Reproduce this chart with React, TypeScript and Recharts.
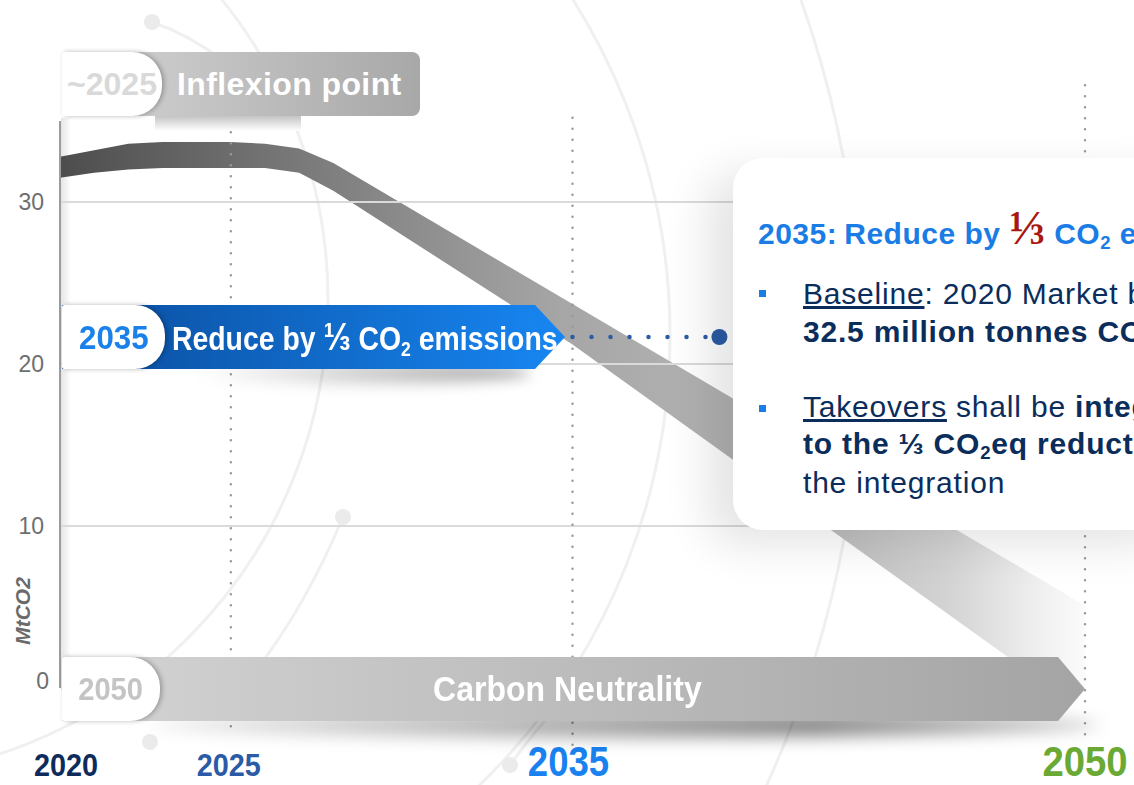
import React from 'react';
import { ComposedChart, Area, Line, XAxis, YAxis, ReferenceLine } from 'recharts';

// emissions trajectory band (MtCO2), upper and lower edge
const years = [2020, 2021, 2022, 2023, 2024, 2025, 2026, 2027, 2028, 2035, 2050];
const bandTop = [32.8, 33.2, 33.6, 33.7, 33.7, 33.7, 33.6, 33.3, 32.4, 23.7, 5.1];
const bandBottom = [31.5, 31.8, 32.0, 32.1, 32.1, 32.1, 32.1, 31.8, 30.7, 21.2, -1.5];

const xTicks = [2020, 2025, 2035, 2050];
const yTicks = [0, 10, 20, 30];
const gridValues = [10, 20, 30];

const baseline2020 = 32.5;
const target2035 = (baseline2020 * 2) / 3;
const connectorYears = [2035, 2039.3];

// dotted milestone guides
const milestones = [
  { year: 2025, from: 34.3, to: -2.6 },
  { year: 2035, from: 35.2, to: -3.6 },
  { year: 2050, from: 37.2, to: -3.2 },
];

const data = years.map((year, i) => ({ year, band: [bandBottom[i], bandTop[i]] }));
const connector = connectorYears.map((year) => ({ year, v: target2035 }));

const sans = '"Liberation Sans", Arial, sans-serif';
const navy = '#0b2d5b';
const blue = '#1a7de6';

const tickLook: Record<number, { fill: string; size: number; sx: number; dx: number; base: number }> = {
  2020: { fill: '#0d2b5c', size: 32, sx: 0.9, dx: 6, base: 776 },
  2025: { fill: '#2b5aa6', size: 32, sx: 0.9, dx: -2, base: 776 },
  2035: { fill: '#1a82f0', size: 42, sx: 0.87, dx: -4, base: 776 },
  2050: { fill: '#6aa934', size: 43, sx: 0.89, dx: 0, base: 776 },
};

const XTick = (props: any) => {
  const { x, y, payload } = props;
  const t = tickLook[payload.value];
  if (!t) return null;
  return (
    <text
      transform={`translate(${x + t.dx},${y + t.base - 688}) scale(${t.sx},1)`}
      textAnchor="middle"
      fill={t.fill}
      fontSize={t.size}
      fontWeight={700}
      fontFamily={sans}
    >
      {payload.value}
    </text>
  );
};

const YTick = (props: any) => {
  const { x, y, payload } = props;
  const lift = payload.value === 0 ? -7 : 0;
  return (
    <text
      x={x + (payload.value === 0 ? 5 : 0)}
      y={y + lift}
      dy="0.36em"
      textAnchor="end"
      fill="#6e6e6e"
      fontSize={23}
      fontFamily={sans}
    >
      {payload.value}
    </text>
  );
};

const EndDot = (props: any) =>
  props.index === connectorYears.length - 1 ? (
    <circle key="end" cx={props.cx} cy={props.cy} r={8} fill="#2c5ba5" />
  ) : (
    <g key={props.index} />
  );

const Sub2 = () => (
  <span style={{ fontSize: '0.62em', verticalAlign: '-0.28em' }}>2</span>
);

const tabStyle: React.CSSProperties = {
  position: 'absolute',
  background: '#fff',
  borderRadius: '2px 30px 30px 2px',
  boxShadow: '2px 0 5px rgba(0,0,0,0.28)',
  display: 'flex',
  alignItems: 'center',
  justifyContent: 'center',
  fontWeight: 700,
  whiteSpace: 'nowrap',
};

const narrow = (sx: number, origin = 'center'): React.CSSProperties => ({
  display: 'inline-block',
  transform: `scaleX(${sx})`,
  transformOrigin: origin,
  whiteSpace: 'nowrap',
});

const cardLine = (baseline: number): React.CSSProperties => ({
  position: 'absolute',
  left: 803,
  top: baseline - 25.4,
  fontSize: 30,
  lineHeight: '30px',
  letterSpacing: 0.8,
  color: navy,
  whiteSpace: 'nowrap',
});

const bullet = (top: number): React.CSSProperties => ({
  position: 'absolute',
  left: 759,
  top,
  width: 7,
  height: 7,
  background: blue,
});

export default function App() {
  return (
    <div
      style={{
        position: 'fixed',
        left: 0,
        top: 0,
        width: 1134,
        height: 785,
        overflow: 'hidden',
        background: '#fff',
        fontFamily: sans,
      }}
    >
      {/* faint background arcs */}
      <svg width={1134} height={785} style={{ position: 'absolute', left: 0, top: 0 }}>
        <g fill="none" stroke="#f0f0f0" strokeWidth={3}>
          <circle cx={43} cy={335} r={627} />
          <circle cx={-189} cy={350} r={1050} />
          <circle cx={-150} cy={300} r={478} />
          <path d="M343 517 Q300 620 240 690" />
          <path d="M152 22 Q190 35 225 62" />
          <path d="M510 765 Q535 730 560 705" />
        </g>
        <g fill="#ebebeb">
          <circle cx={152} cy={22} r={8} />
          <circle cx={343} cy={517} r={8} />
          <circle cx={150} cy={742} r={8} />
          <circle cx={510} cy={765} r={8} />
        </g>
      </svg>

      <div
        style={{
          position: 'absolute',
          left: 61,
          top: 118,
          width: 10,
          height: 572,
          background: 'linear-gradient(to right, rgba(0,0,0,0.10), rgba(0,0,0,0))',
        }}
      />

      <div style={{ position: 'absolute', left: 0, top: 0 }}>
        <ComposedChart width={1134} height={785} data={data} margin={{ top: 121, right: 0, bottom: 0, left: 0 }}>
          <defs>
            <linearGradient id="bandFill" gradientUnits="userSpaceOnUse" x1={60} y1={0} x2={1085} y2={0}>
              <stop offset="0" stopColor="#4d4d4d" />
              <stop offset="0.26" stopColor="#7e7e7e" />
              <stop offset="0.49" stopColor="#a6a6a6" />
              <stop offset="0.66" stopColor="#b4b4b4" />
              <stop offset="0.76" stopColor="#bfbfbf" />
              <stop offset="0.87" stopColor="#d4d4d4" />
              <stop offset="0.95" stopColor="#eeeeee" />
              <stop offset="1" stopColor="#fbfbfb" />
            </linearGradient>
          </defs>
          <XAxis
            dataKey="year"
            type="number"
            domain={[2020, 2051.434]}
            ticks={xTicks}
            axisLine={false}
            tickLine={false}
            tickSize={0}
            tickMargin={0}
            height={97}
            tick={<XTick />}
            interval={0}
          />
          <YAxis
            type="number"
            domain={[0, 35]}
            allowDataOverflow
            ticks={yTicks}
            width={60}
            tickLine={false}
            tickSize={0}
            tickMargin={16}
            axisLine={{ stroke: '#9c9c9c', strokeWidth: 2 }}
            tick={<YTick />}
            label={{
              content: () => (
                <text
                  x={22}
                  y={611}
                  transform="rotate(-90 22 611)"
                  textAnchor="middle"
                  dominantBaseline="central"
                  fill="#6a6a6a"
                  fontSize={21}
                  fontWeight={700}
                  fontStyle="italic"
                  fontFamily={sans}
                >
                  MtCO2
                </text>
              ),
            }}
          />
          {gridValues.map((v) => (
            <ReferenceLine key={v} y={v} stroke="#dadada" strokeWidth={2} />
          ))}
          {milestones.map((m) => (
            <ReferenceLine
              key={m.year}
              segment={[
                { x: m.year, y: m.from },
                { x: m.year, y: m.to },
              ]}
              ifOverflow="visible"
              stroke="#9a9a9a"
              strokeWidth={2.5}
              strokeDasharray="0 11"
              strokeLinecap="round"
            />
          ))}
          <Area
            dataKey="band"
            type="linear"
            stroke="none"
            fill="url(#bandFill)"
            fillOpacity={1}
            isAnimationActive={false}
          />
          <Line
            data={connector}
            dataKey="v"
            stroke="#2c5ba5"
            strokeWidth={4.5}
            strokeDasharray="0 19"
            strokeLinecap="round"
            dot={EndDot}
            activeDot={false}
            isAnimationActive={false}
          />
        </ComposedChart>
      </div>

      {/* ~2025 inflexion point badge */}
      <div
        style={{
          position: 'absolute',
          left: 155,
          top: 116,
          width: 146,
          height: 15,
          background: 'linear-gradient(to bottom, #c4c4c4, #ffffff)',
        }}
      />
      <div
        style={{
          position: 'absolute',
          left: 62,
          top: 52,
          width: 358,
          height: 64,
          borderRadius: 8,
          background: 'linear-gradient(to right, #d6d6d6, #a8a8a8)',
        }}
      />
      <div style={{ ...tabStyle, left: 62, top: 52, width: 100, height: 64, fontSize: 32, color: '#d9d9d9' }}>
        ~2025
      </div>
      <div
        style={{
          position: 'absolute',
          left: 177,
          top: 52,
          height: 64,
          lineHeight: '64px',
          fontSize: 32,
          fontWeight: 700,
          color: '#fff',
          whiteSpace: 'nowrap',
          letterSpacing: 0.4,
        }}
      >
        Inflexion point
      </div>

      {/* 2035 banner */}
      <div
        style={{
          position: 'absolute',
          left: 190,
          top: 362,
          width: 340,
          height: 22,
          borderRadius: '50%',
          background: 'linear-gradient(to right, rgba(0,0,0,0), rgba(0,0,0,0.35))',
          filter: 'blur(7px)',
        }}
      />
      <div
        style={{
          position: 'absolute',
          left: 62,
          top: 305,
          width: 503,
          height: 64,
          background: 'linear-gradient(to right, #0a4c9c, #1786f2)',
          clipPath: 'polygon(0 0, 473px 0, 503px 32px, 473px 64px, 0 64px)',
        }}
      />
      <div style={{ ...tabStyle, left: 62, top: 305, width: 103, height: 64, fontSize: 34, color: '#1a80ea' }}>
        <span style={narrow(0.92)}>2035</span>
      </div>
      <div
        style={{
          position: 'absolute',
          left: 172,
          top: 305,
          height: 64,
          lineHeight: '64px',
          fontSize: 33,
          fontWeight: 700,
          color: '#fff',
        }}
      >
        <span style={narrow(0.86, 'left center')}>
          Reduce by <span style={{ fontSize: '1.15em' }}>⅓</span> CO<Sub2 /> emissions
        </span>
      </div>

      {/* 2035 card */}
      <div
        style={{
          position: 'absolute',
          left: 733,
          top: 158,
          width: 460,
          height: 372,
          borderRadius: 30,
          background: '#fff',
          boxShadow: '-25px 15px 45px rgba(0,0,0,0.11)',
        }}
      />
      <div
        style={{
          position: 'absolute',
          left: 758,
          top: 238 - 25.4,
          fontSize: 30,
          lineHeight: '30px',
          fontWeight: 700,
          color: blue,
          letterSpacing: 0.5,
          whiteSpace: 'nowrap',
        }}
      >
        2035:<span style={{ marginLeft: 7 }}>Reduce by </span>
        <span style={{ fontFamily: '"Liberation Serif", serif', color: '#a8180f', fontSize: 48, letterSpacing: 0 }}>⅓</span>
        <span> CO<Sub2 /> emissions</span>
      </div>
      <div style={bullet(290)} />
      <div style={cardLine(304)}>
        <span style={{ textDecoration: 'underline' }}>Baseline</span>: 2020 Market baseline
      </div>
      <div style={{ ...cardLine(342), fontWeight: 700 }}>
        32.5 million tonnes CO<Sub2 />eq
      </div>
      <div style={bullet(405)} />
      <div style={cardLine(417)}>
        <span style={{ textDecoration: 'underline' }}>Takeovers</span> shall be <b>integrated</b>
      </div>
      <div style={{ ...cardLine(454), fontWeight: 700 }}>
        to the ⅓ CO<Sub2 />eq reduction after
      </div>
      <div style={cardLine(493)}>the integration</div>

      {/* 2050 carbon neutrality arrow */}
      <div
        style={{
          position: 'absolute',
          left: 150,
          top: 712,
          width: 950,
          height: 26,
          borderRadius: '50%',
          background: 'linear-gradient(to right, rgba(0,0,0,0.08), rgba(0,0,0,0.45) 70%, rgba(0,0,0,0.2))',
          filter: 'blur(8px)',
        }}
      />
      <div
        style={{
          position: 'absolute',
          left: 62,
          top: 657,
          width: 1023,
          height: 64,
          background: 'linear-gradient(to right, #d4d4d4, #a4a4a4)',
          clipPath: 'polygon(0 0, 996px 0, 1023px 32px, 996px 64px, 0 64px)',
        }}
      />
      <div style={{ ...tabStyle, left: 62, top: 657, width: 98, height: 64, fontSize: 32, color: '#c4c4c4' }}>
        <span style={narrow(0.91)}>2050</span>
      </div>
      <div
        style={{
          position: 'absolute',
          left: 433,
          top: 657,
          height: 64,
          lineHeight: '64px',
          fontSize: 35,
          fontWeight: 700,
          color: '#fff',
        }}
      >
        <span style={narrow(0.915, 'left center')}>Carbon Neutrality</span>
      </div>
    </div>
  );
}
